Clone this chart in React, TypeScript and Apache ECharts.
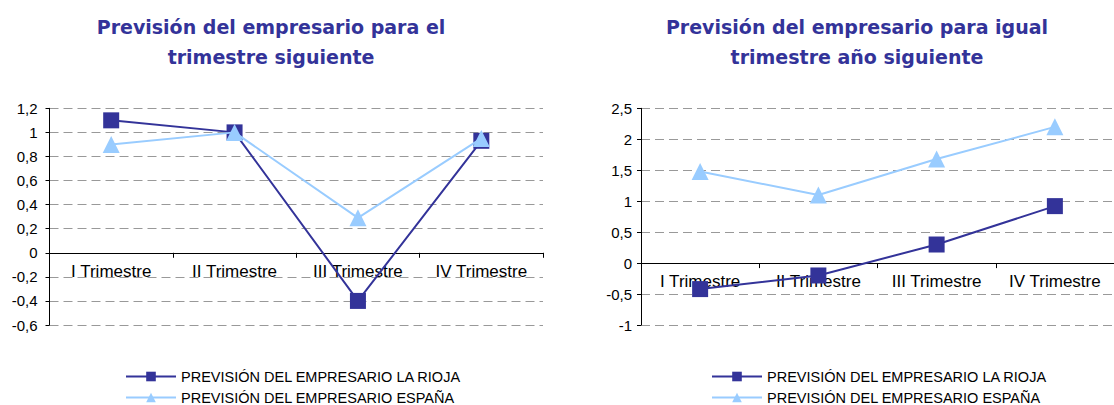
import React, { useEffect, useRef } from "react";
import * as echarts from "echarts";

const categories = ["I Trimestre", "II Trimestre", "III Trimestre", "IV Trimestre"];
const seriesNames = ["PREVISIÓN DEL EMPRESARIO LA RIOJA", "PREVISIÓN DEL EMPRESARIO ESPAÑA"];
const titleLeft = "Previsión del empresario para el\ntrimestre siguiente";
const titleRight = "Previsión del empresario para igual\ntrimestre año siguiente";
const leftRioja = [1.1, 1.0, -0.4, 0.93];
const leftEspana = [0.9, 1.0, 0.29, 0.95];
const rightRioja = [-0.42, -0.2, 0.3, 0.92];
const rightEspana = [1.48, 1.1, 1.68, 2.2];

const DARK = "#333399";
const LIGHT = "#99CCFF";

const fmt = (v: number) => String(Math.round(v * 10) / 10).replace(".", ",");

export default function App() {
  const ref = useRef<HTMLDivElement>(null);
  useEffect(() => {
    const chart = echarts.init(ref.current!, null, { renderer: "svg" });
    const font = "Arial, 'Liberation Sans', sans-serif";
    const titleFont = "'DejaVu Sans', Arial, sans-serif";
    const xAxisBase = (gridIndex: number, offset: number) => ({
      type: "category" as const,
      gridIndex,
      data: categories,
      boundaryGap: true,
      position: "bottom" as const,
      offset,
      axisLine: { onZero: false, lineStyle: { color: "#000", width: 1 } },
      axisTick: { show: true, length: 5, inside: false, lineStyle: { color: "#000" } },
      axisLabel: { color: "#000", fontSize: 17, fontFamily: font, margin: 10, interval: 0 },
      splitLine: { show: false },
      z: 1,
    });
    const yAxisBase = (gridIndex: number, min: number, max: number, interval: number, margin: number) => ({
      type: "value" as const,
      gridIndex,
      min,
      max,
      interval,
      axisLine: { show: true, lineStyle: { color: "#000", width: 1 } },
      axisTick: { show: true, length: 4, lineStyle: { color: "#000" } },
      axisLabel: { color: "#000", fontSize: 15, fontFamily: font, margin, formatter: fmt },
      splitLine: { show: true, lineStyle: { color: "#999", type: [9, 5] as any, width: 1 } },
    });
    const line = (name: string, data: number[], idx: number, dark: boolean) => ({
      type: "line" as const,
      name,
      data,
      xAxisIndex: idx,
      yAxisIndex: idx,
      symbol: dark ? "rect" : "triangle",
      symbolSize: dark ? 16 : 17,
      itemStyle: { color: dark ? DARK : LIGHT },
      lineStyle: { color: dark ? DARK : LIGHT, width: 2 },
      z: dark ? 3 : 4,
    });
    const legendItem = (left: number, top: number, name: string) => ({
      left,
      top,
      itemWidth: 50,
      itemHeight: 12,
      itemGap: 5,
      data: [name],
      textStyle: { color: "#000", fontSize: 14.5, fontFamily: font },
    });
    chart.setOption({
      animation: false,
      backgroundColor: "#fff",
      title: [
        {
          text: titleLeft,
          left: 266,
          top: 7,
          textAlign: "center",
          textStyle: { color: DARK, fontSize: 19, fontWeight: "bold", fontFamily: titleFont, lineHeight: 30 },
        },
        {
          text: titleRight,
          left: 852,
          top: 7,
          textAlign: "center",
          textStyle: { color: DARK, fontSize: 19, fontWeight: "bold", fontFamily: titleFont, lineHeight: 30 },
        },
      ],
      legend: [
        legendItem(120, 364, seriesNames[0]),
        legendItem(120, 385, seriesNames[1]),
        legendItem(706, 364, seriesNames[0]),
        legendItem(706, 385, seriesNames[1]),
      ],
      grid: [
        { left: 49.5, top: 108.3, width: 493.5, height: 216.7 },
        { left: 641, top: 108.3, width: 484, height: 216.7 },
      ],
      xAxis: [xAxisBase(0, -72.2), xAxisBase(1, -61.9)],
      yAxis: [yAxisBase(0, -0.6, 1.2, 0.2, 12), yAxisBase(1, -1, 2.5, 0.5, 9)],
      series: [
        line(seriesNames[0], leftRioja, 0, true),
        line(seriesNames[1], leftEspana, 0, false),
        line(seriesNames[0], rightRioja, 1, true),
        line(seriesNames[1], rightEspana, 1, false),
      ],
    });
    return () => chart.dispose();
  }, []);
  return (
    <div
      ref={ref}
      style={{ position: "fixed", left: 0, top: 0, width: 1114, height: 405, background: "#fff" }}
    />
  );
}
